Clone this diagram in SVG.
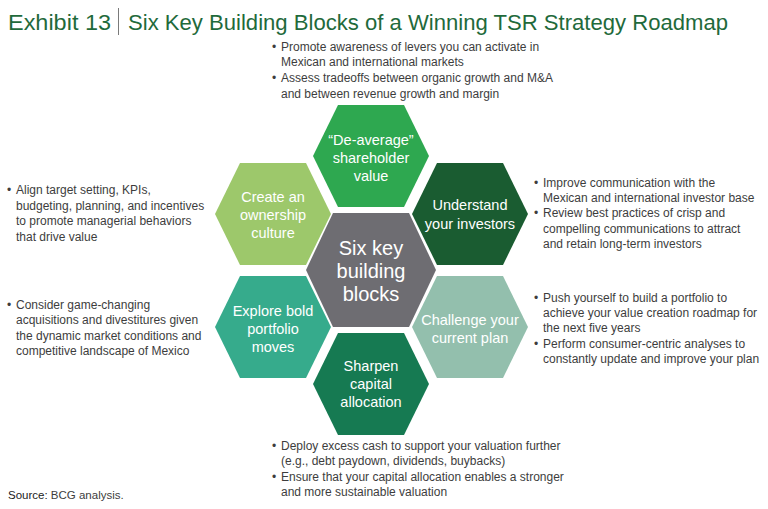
<svg xmlns="http://www.w3.org/2000/svg" width="768" height="509" viewBox="0 0 768 509">
<style>
.title{font-family:"Liberation Sans",Arial,sans-serif;font-size:22.5px;fill:#1f6a3b}
.body{font-family:"Liberation Sans",Arial,sans-serif;font-size:12px;fill:#3d3d3d}
.hl{font-family:"Liberation Sans",Arial,sans-serif;font-size:14.5px;fill:#ffffff;text-anchor:middle}
.hc{font-family:"Liberation Sans",Arial,sans-serif;font-size:20px;fill:#ffffff;text-anchor:middle}
.src{font-family:"Liberation Sans",Arial,sans-serif;font-size:11.5px;fill:#3d3d3d}
</style>
<defs>
<polygon id="hx" points="-58,0 -33,-51 33,-51 58,0 33,51 -33,51"/>
<polygon id="hxc" points="-65,0 -38,-57 38,-57 65,0 38,57 -38,57"/>
</defs>
<rect width="768" height="509" fill="#ffffff"/>
<g id="title">
<text class="title" x="8" y="30" textLength="103" lengthAdjust="spacingAndGlyphs">Exhibit 13</text>
<line x1="118.5" y1="8" x2="118.5" y2="35" stroke="#7a7a7a" stroke-width="1"/>
<text class="title" x="128" y="30" textLength="600" lengthAdjust="spacingAndGlyphs">Six Key Building Blocks of a Winning TSR Strategy Roadmap</text>
</g>

<g id="connectors"></g>

<g id="hex-top">
<use href="#hx" x="371" y="156" fill="#2ea850"/>
<text class="hl" x="371" y="145">“De-average”</text>
<text class="hl" x="371" y="163">shareholder</text>
<text class="hl" x="371" y="181">value</text>
</g>
<g id="hex-ownership">
<use href="#hx" x="273" y="214" fill="#9dc86b"/>
<text class="hl" x="273" y="202">Create an</text>
<text class="hl" x="273" y="220">ownership</text>
<text class="hl" x="273" y="238">culture</text>
</g>
<g id="hex-investors">
<use href="#hx" x="470" y="214" fill="#1a5c31"/>
<text class="hl" x="470" y="210">Understand</text>
<text class="hl" x="470" y="229">your investors</text>
</g>
<g id="hex-center">
<use href="#hxc" x="371" y="270" fill="#6e6d72"/>
<text class="hc" x="371" y="255">Six key</text>
<text class="hc" x="371" y="278">building</text>
<text class="hc" x="371" y="301">blocks</text>
</g>
<g id="hex-portfolio">
<use href="#hx" x="273" y="327" fill="#36ab8c"/>
<text class="hl" x="273" y="316">Explore bold</text>
<text class="hl" x="273" y="334">portfolio</text>
<text class="hl" x="273" y="352">moves</text>
</g>
<g id="hex-plan">
<use href="#hx" x="470" y="327" fill="#93bfad"/>
<text class="hl" x="470" y="325">Challenge your</text>
<text class="hl" x="470" y="343">current plan</text>
</g>
<g id="hex-capital">
<use href="#hx" x="371" y="384" fill="#167a52"/>
<text class="hl" x="371" y="371">Sharpen</text>
<text class="hl" x="371" y="389">capital</text>
<text class="hl" x="371" y="407">allocation</text>
</g>

<g id="notes-top" class="body">
<text x="272" y="51">•</text><text x="281" y="51">Promote awareness of levers you can activate in</text>
<text x="281" y="66">Mexican and international markets</text>
<text x="272" y="82">•</text><text x="281" y="82">Assess tradeoffs between organic growth and M&amp;A</text>
<text x="281" y="98">and between revenue growth and margin</text>
</g>
<g id="notes-left1" class="body">
<text x="7" y="194">•</text><text x="16" y="194">Align target setting, KPIs,</text>
<text x="16" y="210">budgeting, planning, and incentives</text>
<text x="16" y="225">to promote managerial behaviors</text>
<text x="16" y="241">that drive value</text>
</g>
<g id="notes-left2" class="body">
<text x="7" y="309">•</text><text x="16" y="309">Consider game-changing</text>
<text x="16" y="324">acquisitions and divestitures given</text>
<text x="16" y="340">the dynamic market conditions and</text>
<text x="16" y="355">competitive landscape of Mexico</text>
</g>
<g id="notes-right1" class="body">
<text x="534" y="187">•</text><text x="543" y="187">Improve communication with the</text>
<text x="543" y="202">Mexican and international investor base</text>
<text x="534" y="217">•</text><text x="543" y="217">Review best practices of crisp and</text>
<text x="543" y="233">compelling communications to attract</text>
<text x="543" y="248">and retain long-term investors</text>
</g>
<g id="notes-right2" class="body">
<text x="534" y="302">•</text><text x="543" y="302">Push yourself to build a portfolio to</text>
<text x="543" y="317">achieve your value creation roadmap for</text>
<text x="543" y="332">the next five years</text>
<text x="534" y="348">•</text><text x="543" y="348">Perform consumer-centric analyses to</text>
<text x="543" y="363">constantly update and improve your plan</text>
</g>
<g id="notes-bottom" class="body">
<text x="272" y="450">•</text><text x="281" y="450">Deploy excess cash to support your valuation further</text>
<text x="281" y="465">(e.g., debt paydown, dividends, buybacks)</text>
<text x="272" y="481">•</text><text x="281" y="481">Ensure that your capital allocation enables a stronger</text>
<text x="281" y="496">and more sustainable valuation</text>
</g>
<text class="src" x="8" y="499"><tspan fill="#222222">Source:</tspan> BCG analysis.</text>
</svg>
